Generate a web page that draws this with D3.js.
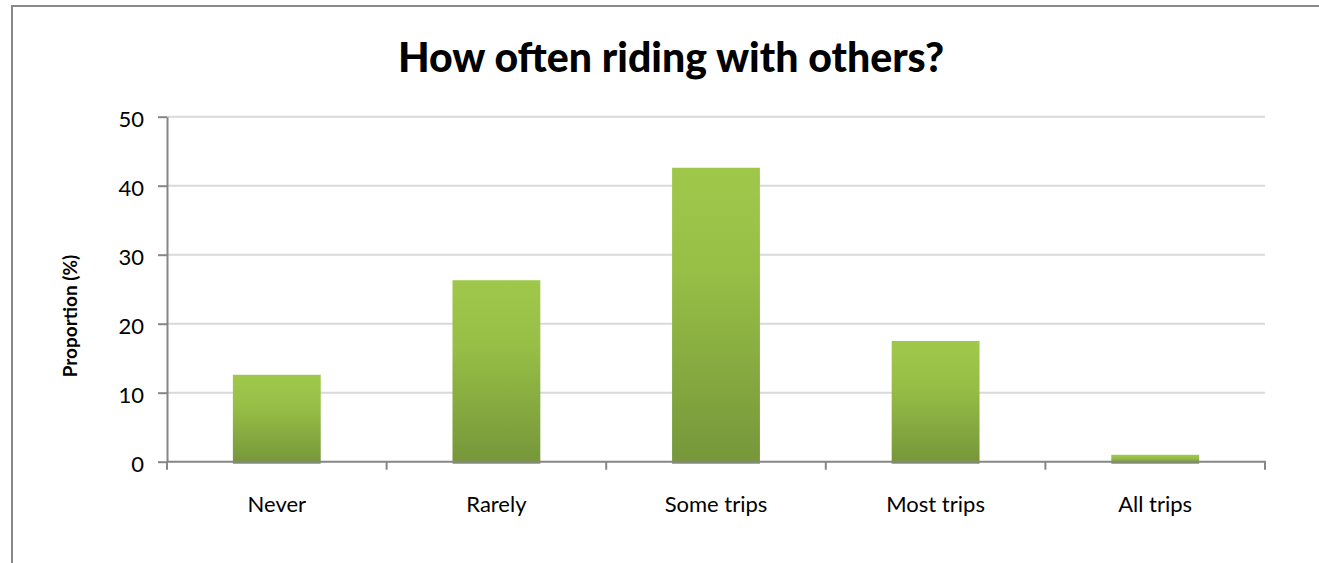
<!DOCTYPE html>
<html>
<head>
<meta charset="utf-8">
<script src="https://cdn.jsdelivr.net/npm/d3@7"></script>
<style>
  html, body { margin: 0; padding: 0; background: #fff; }
  svg { display: block; }
</style>
</head>
<body>
<svg id="chart" width="1319" height="563"></svg>
<script>
// Survey answers: how often people ride with others
const categories = ["Never", "Rarely", "Some trips", "Most trips", "All trips"];
const proportions = [12.6, 26.3, 42.6, 17.5, 1.0];
const yTicks = [0, 10, 20, 30, 40, 50];
const titleText = "How often riding with others?";
const yAxisTitle = "Proportion (%)";

const svg = d3.select("#chart");
const W = 1319, H = 563;
const plot = { left: 167, right: 1265, top: 116.7, bottom: 461.7 };

// Outer frame (top and left edges visible)
svg.append("path")
  .attr("d", `M12,${H} L12,6 L${W},6`)
  .attr("fill", "none")
  .attr("stroke", "#898989")
  .attr("stroke-width", 2);

const x = d3.scaleBand()
  .domain(categories)
  .range([plot.left, plot.right])
  .paddingInner(0.6)
  .paddingOuter(0.3);

const y = d3.scaleLinear()
  .domain([0, 50])
  .range([plot.bottom, plot.top]);

// Bar gradient: light green on top fading to olive at the base
const defs = svg.append("defs");
const grad = defs.append("linearGradient")
  .attr("id", "barFill")
  .attr("x1", 0).attr("y1", 0).attr("x2", 0).attr("y2", 1);
grad.append("stop").attr("offset", "0%").attr("stop-color", "#9fc84b");
grad.append("stop").attr("offset", "35%").attr("stop-color", "#97bf46");
grad.append("stop").attr("offset", "100%").attr("stop-color", "#76963a");

// Horizontal gridlines
svg.append("g")
  .selectAll("line")
  .data(yTicks.filter(t => t > 0))
  .join("line")
  .attr("x1", plot.left).attr("x2", plot.right)
  .attr("y1", d => y(d)).attr("y2", d => y(d))
  .attr("stroke", "#d9d9d9")
  .attr("stroke-width", 2);

// Bars
svg.append("g")
  .selectAll("rect")
  .data(categories.map((c, i) => ({ c, v: proportions[i] })))
  .join("rect")
  .attr("x", d => x(d.c))
  .attr("width", x.bandwidth())
  .attr("y", d => y(d.v))
  .attr("height", d => y(0) - y(d.v) + 2)
  .attr("fill", "url(#barFill)");

// Y axis
const yAxis = svg.append("g")
  .attr("transform", `translate(${plot.left},0)`)
  .call(d3.axisLeft(y).tickValues(yTicks).tickSize(9).tickPadding(14).tickSizeOuter(0));
yAxis.select(".domain").attr("stroke", "#868686").attr("stroke-width", 2);
yAxis.selectAll(".tick line").attr("stroke", "#868686").attr("stroke-width", 2);
yAxis.selectAll(".tick text")
  .attr("font-family", "Lato, 'Open Sans', sans-serif")
  .attr("font-size", 22)
  .attr("fill", "#000")
  .attr("dy", 10)
  .attr("dominant-baseline", "auto");

// X axis baseline with ticks on category boundaries
const xAxis = svg.append("g");
xAxis.append("line")
  .attr("x1", plot.left).attr("x2", plot.right + 1)
  .attr("y1", y(0)).attr("y2", y(0))
  .attr("stroke", "#868686").attr("stroke-width", 2);
const step = x.step();
xAxis.selectAll("line.tick")
  .data(d3.range(categories.length + 1))
  .join("line")
  .attr("class", "tick")
  .attr("x1", i => plot.left + i * step)
  .attr("x2", i => plot.left + i * step)
  .attr("y1", y(0)).attr("y2", y(0) + 8)
  .attr("stroke", "#868686").attr("stroke-width", 2);
xAxis.selectAll("text")
  .data(categories)
  .join("text")
  .attr("x", d => x(d) + x.bandwidth() / 2)
  .attr("y", 512)
  .attr("text-anchor", "middle")
  .attr("font-family", "Lato, 'Open Sans', sans-serif")
  .attr("font-size", 22)
  .attr("fill", "#000")
  .text(d => d);

// Y axis title
svg.append("text")
  .attr("transform", "translate(77,316) rotate(-90)")
  .attr("text-anchor", "middle")
  .attr("font-family", "Lato, 'Open Sans', sans-serif")
  .attr("font-weight", "bold")
  .attr("font-size", 19)
  .attr("fill", "#000")
  .text(yAxisTitle);

// Chart title
svg.append("text")
  .attr("x", 671)
  .attr("y", 72)
  .attr("text-anchor", "middle")
  .attr("font-family", "Lato, 'Open Sans', sans-serif")
  .attr("font-weight", "900")
  .attr("font-size", 41)
  .attr("fill", "#000")
  .text(titleText);
</script>
</body>
</html>
